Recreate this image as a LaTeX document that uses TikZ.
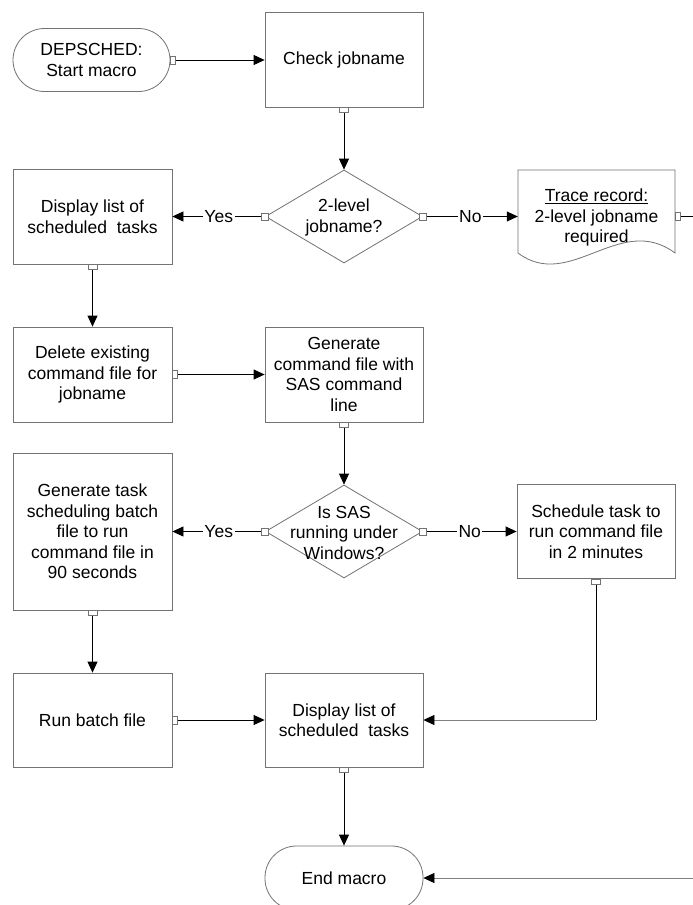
\documentclass[tikz,border=0pt]{standalone}
\usepackage{fontspec}
\setmainfont{Liberation Sans}
\usetikzlibrary{arrows.meta,shapes.geometric,calc}
\definecolor{edgegray}{gray}{0.45}
\definecolor{linegray}{gray}{0.5}
\newcommand\cnH[1]{\draw[connsq] ($(#1)+(0,-4)$) rectangle ++(5,8);}
\newcommand\cnV[1]{\draw[connsq] ($(#1)+(-4.5,0)$) rectangle ++(9,5);}
\newcommand\cnD[1]{\draw[connsq] ($(#1)+(-3.5,-3.5)$) rectangle ++(7,7);}
\tikzset{
  txt/.style={font=\fontsize{17.5}{20.5}\selectfont},
  base/.style={txt, draw=edgegray, line width=0.8pt, fill=white, inner sep=0pt, align=center},
  procbox/.style={base, rectangle, minimum width=158pt, minimum height=95pt},
  termbox/.style={base, rectangle, rounded corners=31.5pt, minimum width=158pt, minimum height=63pt},
  decbox/.style={base, diamond, minimum width=157pt, minimum height=93pt},
  lbl/.style={txt, inner sep=0pt, align=center},
  flow/.style={line width=0.8pt, -{Triangle[length=11pt,width=10pt]}},
  flowgray/.style={line width=0.8pt, draw=linegray, -{Triangle[length=11pt,width=10pt,color=black,fill=black]}},
  plain/.style={line width=0.8pt},
  yesno/.style={txt, fill=white, inner sep=1.5pt},
  connsq/.style={draw=edgegray, fill=white, line width=0.6pt},
}
\begin{document}
\begin{tikzpicture}[x=1pt,y=-1pt]
\useasboundingbox (0,0) rectangle (693,905);
\clip (0,0) rectangle (693,905);
\fill[white] (0,0) rectangle (693,905);

% nodes
\node[termbox, minimum width=157pt] (start) at (91.5,60) {DEPSCHED:\\Start macro};
\node[procbox] (check) at (344,59.5) {Check jobname};
\node[decbox] (d1) at (344,216.5) {};
\node[lbl] (d1t) at (344,217.5) {2-level\\jobname?};
\node[procbox, minimum width=159pt] (disp1) at (92.5,216.5) {Display list of\\scheduled~ tasks};
\node[minimum width=157pt, minimum height=95pt, inner sep=0pt] (trace) at (596.5,216.5) {};
\draw[draw=edgegray, fill=white, line width=0.8pt] (518,170) -- (675,170) -- (675,253)
  .. controls (620,212) and (570,292) .. (518,253) -- cycle;
\node[lbl] (tracet) at (596.5,217.5) {\underline{Trace record:}\\2-level jobname\\required};
\node[procbox, minimum width=159pt] (del) at (92.5,374.5) {Delete existing\\command file for\\jobname};
\node[procbox] (gen) at (344,374.5) {Generate\\command file with\\SAS command\\line};
\node[decbox] (d2) at (344,531.5) {};
\node[lbl] (d2t) at (344,532.5) {Is SAS\\running under\\Windows?};
\node[procbox, minimum width=159pt, minimum height=157pt] (task) at (92.5,531.5) {Generate task\\scheduling batch\\file to run\\command file in\\90 seconds};
\node[procbox, minimum height=94pt] (sched) at (596,531.5) {Schedule task to\\run command file\\in 2 minutes};
\node[procbox, minimum width=159pt, minimum height=94pt] (run) at (92.5,720) {Run batch file};
\node[procbox, minimum height=94pt] (disp2) at (344,720) {Display list of\\scheduled~ tasks};
\node[termbox, minimum height=64pt] (endm) at (344,878) {End macro};
\coordinate (edgeA) at (693,216.5);
\coordinate (edgeB) at (693,878);

% connectors
\draw[flow] (start.east) -- (start.east -| check.west);
\draw[flow] (check.south) -- (d1.north);
\draw[flow] (d1.west) -- node[yesno]{Yes} (disp1.east);
\draw[flow] (d1.east) -- node[yesno]{No} (trace.west);
\draw[plain] (trace.east) -- (edgeA);
\draw[flow] (disp1.south) -- (del.north);
\draw[flow] (del.east) -- (gen.west);
\draw[flow] (gen.south) -- (d2.north);
\draw[flow] (d2.west) -- node[yesno]{Yes} (task.east);
\draw[flow] (d2.east) -- node[yesno]{No} (sched.west);
\draw[flow] (task.south) -- (run.north);
\draw[flow] (run.east) -- (disp2.west);
\draw[plain] (sched.south) -- (sched.south |- disp2.east) coordinate (bend);
\draw[flowgray] (bend) -- (disp2.east);
\draw[flow] (disp2.south) -- (endm.north);
\draw[flowgray] (edgeB) -- (endm.east);

% connection points
\cnH{start.east}
\cnV{check.south}
\cnD{d1.west}
\cnD{d1.east}
\cnH{trace.east}
\cnV{disp1.south}
\cnH{del.east}
\cnV{gen.south}
\cnD{d2.west}
\cnD{d2.east}
\cnV{task.south}
\cnV{sched.south}
\cnH{run.east}
\cnV{disp2.south}
\end{tikzpicture}
\end{document}
